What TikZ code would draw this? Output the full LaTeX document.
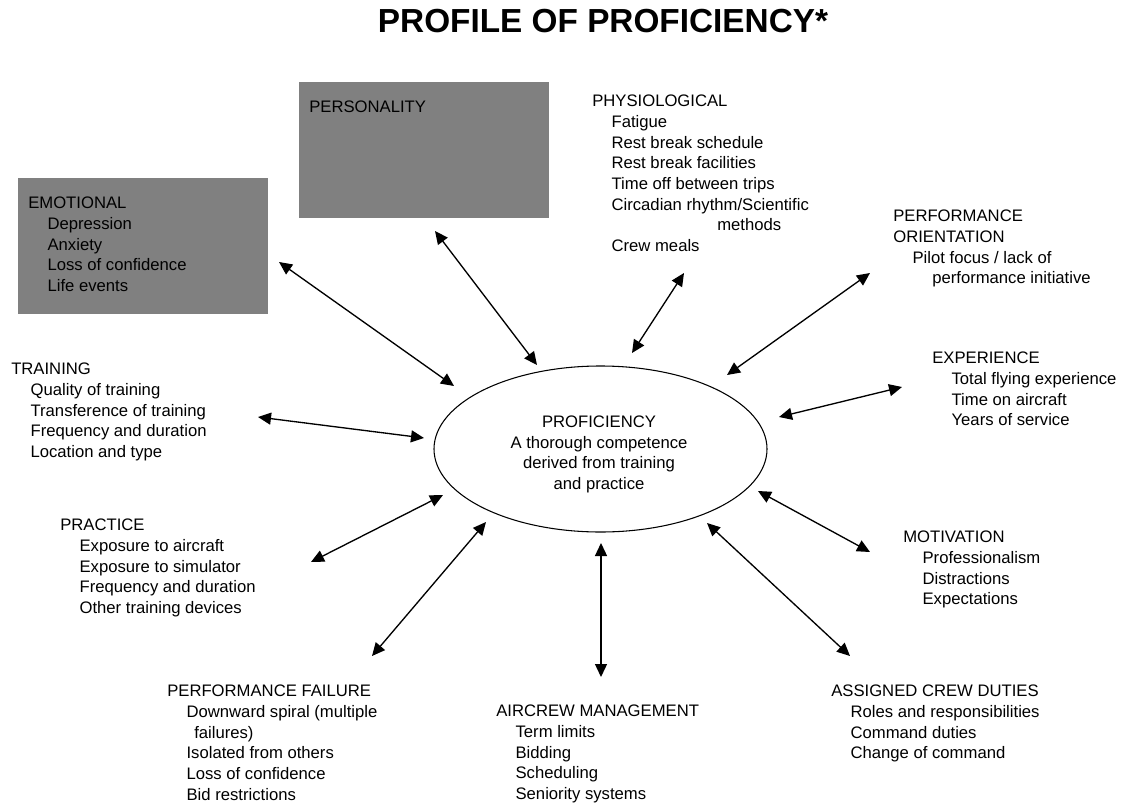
\documentclass[tikz,border=0pt]{standalone}
\usepackage{fontspec}
\setmainfont{Liberation Sans}
\usetikzlibrary{arrows.meta, shapes.geometric}

\newcommand{\subin}{\hspace*{14.5pt}}

\begin{document}
\begin{tikzpicture}[
  >={Triangle[length=9.75pt, width=9pt]},
  x=0.75pt, y=-0.75pt, % 1 unit = 1 px of the page, y runs downwards
  factor/.style={anchor=north west, align=left, inner sep=0pt, font=\fontsize{12.5}{15.5}\selectfont},
  greybox/.style={anchor=north west, fill=black!50, inner sep=0pt, minimum width=187.5pt, minimum height=101.5pt},
  core/.style={ellipse, draw, line width=0.8pt, inner sep=0pt, minimum width=249.75pt, minimum height=124.5pt},
  link/.style={<->, line width=1pt}
]
  \useasboundingbox (0,0) rectangle (1126,806);

  % title
  \node[anchor=base, font=\fontsize{25}{29}\selectfont\bfseries] (title) at (603,33) {PROFILE OF PROFICIENCY*};

  % grey boxes
  \node[greybox] (emobox) at (18,178) {};
  \node[greybox] (persbox) at (299,82) {};

  % centre
  \node[core] (prof) at (600.5,449) {};
  \node[align=center, inner sep=0pt, font=\fontsize{12.5}{15.5}\selectfont] (proftext) at (599,454.3)
    {PROFICIENCY\\A thorough competence\\derived from training\\and practice};

  % factors round the centre
  \node[factor] (emo) at (28,197) {EMOTIONAL\\\subin Depression\\\subin Anxiety\\\subin Loss of confidence\\\subin Life events};
  \node[factor] (pers) at (309,101) {PERSONALITY};
  \node[factor] (phys) at (592,95) {PHYSIOLOGICAL\\\subin Fatigue\\\subin Rest break schedule\\\subin Rest break facilities\\\subin Time off between trips\\\subin Circadian rhythm/Scientific\\\hspace*{93.75pt}methods\\\subin Crew meals};
  \node[factor] (perfor) at (893,210) {PERFORMANCE\\ORIENTATION\\\subin Pilot focus / lack of\\\hspace*{29.25pt}performance initiative};
  \node[factor] (exp) at (932,352) {EXPERIENCE\\\subin Total flying experience\\\subin Time on aircraft\\\subin Years of service};
  \node[factor] (train) at (11,363) {TRAINING\\\subin Quality of training\\\subin Transference of training\\\subin Frequency and duration\\\subin Location and type};
  \node[factor] (prac) at (60,519) {PRACTICE\\\subin Exposure to aircraft\\\subin Exposure to simulator\\\subin Frequency and duration\\\subin Other training devices};
  \node[factor] (motiv) at (903,531) {MOTIVATION\\\subin Professionalism\\\subin Distractions\\\subin Expectations};
  \node[factor] (fail) at (167,685) {PERFORMANCE FAILURE\\\subin Downward spiral (multiple\\\hspace*{20.25pt}failures)\\\subin Isolated from others\\\subin Loss of confidence\\\subin Bid restrictions};
  \node[factor] (crew) at (496,705) {AIRCREW MANAGEMENT\\\subin Term limits\\\subin Bidding\\\subin Scheduling\\\subin Seniority systems};
  \node[factor] (duty) at (831,685) {ASSIGNED CREW DUTIES\\\subin Roles and responsibilities\\\subin Command duties\\\subin Change of command};

  % two-way arrows: outer end / end at the ellipse
  \foreach \n/\xa/\ya/\xb/\yb in {emo/279/262/454/386, pers/435/231/537/365, phys/684/273/632/353,
      perfor/870/273/727/375, exp/902/387/779/417, train/258/417/424/438, prac/311/562/443/495,
      fail/372/656/486/522, crew/601/677/601/543, duty/850/656/707/523, motiv/870/552/758/491} {
    \coordinate (\n-out) at (\xa,\ya);
    \coordinate (\n-in) at (\xb,\yb);
    \draw[link] (\n-out) -- (\n-in);
  }
\end{tikzpicture}
\end{document}
